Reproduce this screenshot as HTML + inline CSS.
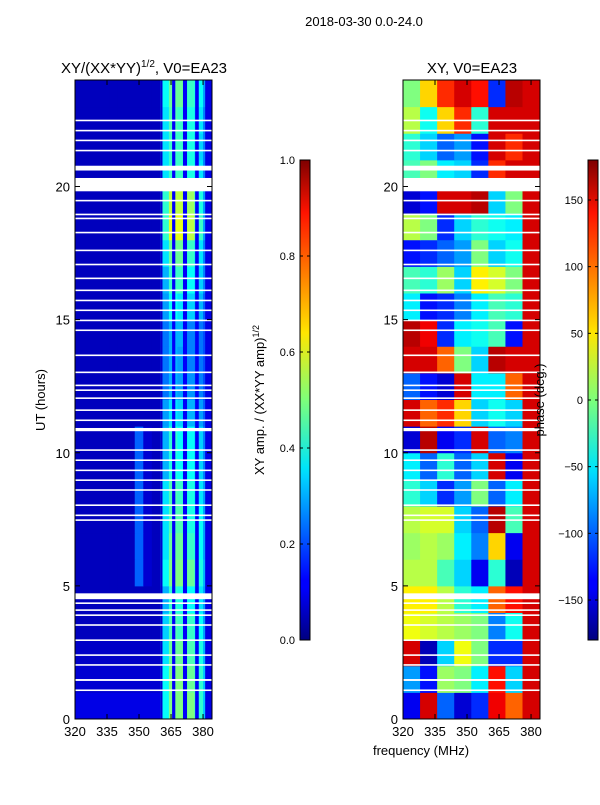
<!DOCTYPE html>
<html><head><meta charset="utf-8">
<style>
body{margin:0;background:#fff;font-family:"Liberation Sans",sans-serif;}
svg text{font-family:"Liberation Sans",sans-serif;fill:#000;}
</style></head>
<body>
<svg id="fig" width="600" height="800" viewBox="0 0 600 800" xmlns="http://www.w3.org/2000/svg">
<defs>
<linearGradient id="jet" x1="0" y1="1" x2="0" y2="0">
<stop offset="0" stop-color="#00007f"/><stop offset="0.11" stop-color="#0000ff"/><stop offset="0.125" stop-color="#0000ff"/>
<stop offset="0.34" stop-color="#00d4ff"/><stop offset="0.36" stop-color="#00e5f7"/><stop offset="0.5" stop-color="#7dff7a"/>
<stop offset="0.64" stop-color="#ffe600"/><stop offset="0.66" stop-color="#ffd400"/><stop offset="0.89" stop-color="#ff1300"/>
<stop offset="1" stop-color="#7f0000"/>
</linearGradient>
</defs>
<text x="364" y="26" font-size="13" text-anchor="middle">2018-03-30 0.0-24.0</text>
<g id="left"></g>
<g id="right"></g>
<text x="144" y="73" font-size="15" text-anchor="middle">XY/(XX*YY)<tspan font-size="10" dy="-6">1/2</tspan><tspan dy="6">, V0=EA23</tspan></text>
<text x="472" y="73" font-size="15" text-anchor="middle">XY, V0=EA23</text>
<text transform="translate(45,400) rotate(-90)" font-size="13" text-anchor="middle">UT (hours)</text>
<text x="421" y="755" font-size="13" text-anchor="middle">frequency (MHz)</text>
<text transform="translate(264,400) rotate(-90)" font-size="13" text-anchor="middle">XY amp. / (XX*YY amp)<tspan font-size="9" dy="-5">1/2</tspan></text>
<text transform="translate(544,400) rotate(-90)" font-size="13" text-anchor="middle">phase (deg.)</text>
</svg>
<script>
// ---- data ----
var ampFreqBins = [320,324,328,332,336,340,344,348,352,356,360,364,368,372,376,380];
var ampRows = [
[0.10,0.10,0.10,0.10,0.10,0.10,0.10,0.10,0.10,0.10,0.38,0.50,0.50,0.50,0.42,0.32],
[0.08,0.08,0.08,0.08,0.08,0.08,0.08,0.08,0.08,0.08,0.38,0.50,0.50,0.48,0.42,0.32],
[0.07,0.07,0.07,0.07,0.07,0.07,0.07,0.07,0.07,0.07,0.35,0.48,0.48,0.45,0.40,0.30],
[0.06,0.06,0.06,0.06,0.06,0.06,0.06,0.06,0.06,0.06,0.33,0.45,0.43,0.43,0.38,0.28],
[0.06,0.06,0.06,0.06,0.06,0.06,0.06,0.06,0.06,0.06,0.30,0.42,0.40,0.38,0.35,0.28],
[0.06,0.06,0.06,0.06,0.06,0.06,0.06,0.22,0.08,0.06,0.38,0.50,0.50,0.48,0.40,0.30],
[0.06,0.06,0.06,0.06,0.06,0.06,0.06,0.22,0.08,0.06,0.35,0.48,0.48,0.43,0.38,0.28],
[0.06,0.06,0.06,0.06,0.06,0.06,0.06,0.22,0.08,0.06,0.35,0.45,0.45,0.40,0.38,0.28],
[0.06,0.06,0.06,0.06,0.06,0.06,0.06,0.22,0.08,0.06,0.35,0.45,0.43,0.40,0.35,0.28],
[0.06,0.06,0.06,0.06,0.06,0.06,0.06,0.22,0.08,0.06,0.30,0.40,0.38,0.38,0.33,0.25],
[0.06,0.06,0.06,0.06,0.06,0.06,0.06,0.22,0.08,0.06,0.30,0.42,0.38,0.38,0.33,0.25],
[0.06,0.06,0.06,0.06,0.06,0.06,0.06,0.06,0.06,0.06,0.28,0.35,0.33,0.30,0.28,0.22],
[0.06,0.06,0.06,0.06,0.06,0.06,0.06,0.06,0.06,0.06,0.24,0.30,0.28,0.27,0.25,0.20],
[0.06,0.06,0.06,0.06,0.06,0.06,0.06,0.06,0.06,0.06,0.24,0.30,0.28,0.25,0.24,0.20],
[0.06,0.06,0.06,0.06,0.06,0.06,0.06,0.06,0.06,0.06,0.24,0.30,0.30,0.25,0.24,0.20],
[0.06,0.06,0.06,0.06,0.06,0.06,0.06,0.06,0.06,0.06,0.28,0.38,0.35,0.33,0.30,0.22],
[0.06,0.06,0.06,0.06,0.06,0.06,0.06,0.06,0.06,0.06,0.30,0.43,0.43,0.38,0.33,0.25],
[0.06,0.06,0.06,0.06,0.06,0.06,0.06,0.06,0.06,0.06,0.35,0.48,0.48,0.43,0.35,0.25],
[0.06,0.06,0.06,0.06,0.06,0.06,0.06,0.06,0.06,0.06,0.42,0.60,0.60,0.56,0.43,0.28],
[0.06,0.06,0.06,0.06,0.06,0.06,0.06,0.06,0.06,0.06,0.42,0.56,0.56,0.53,0.40,0.28],
[0.06,0.06,0.06,0.06,0.06,0.06,0.06,0.06,0.06,0.06,0.35,0.43,0.43,0.40,0.35,0.25],
[0.06,0.06,0.06,0.06,0.06,0.06,0.06,0.06,0.06,0.06,0.35,0.43,0.43,0.40,0.33,0.25],
[0.06,0.06,0.06,0.06,0.06,0.06,0.06,0.06,0.06,0.06,0.35,0.45,0.43,0.40,0.35,0.25],
[0.06,0.06,0.06,0.06,0.06,0.06,0.06,0.06,0.06,0.06,0.38,0.48,0.48,0.43,0.38,0.28]
];
// narrow low-amplitude channel ranges between the bright bands (MHz)
var ampDipStart = [360,365.5,370.6,376.3,381];
var ampDipEnd   = [361,367,372.5,378,384.2];
var ampDipValue = [0.08,0.12,0.12,0.12,0.1];
var phaseFreqBins = [320,328,336,344,352,360,368,376];
var phaseRows = [
[-140,150,-100,-150,-120,140,100,150],
[-80,-130,10,0,-50,130,-60,150],
[150,-160,-60,40,0,-120,-120,150],
[40,30,20,10,0,-90,-40,150],
[50,50,20,-30,-50,100,130,150],
[20,20,-20,-60,-140,-30,-160,150],
[10,20,10,-50,-90,60,-140,150],
[20,30,30,-60,-100,160,-20,150],
[-30,-60,-120,-80,0,-100,-50,150],
[-50,-100,-30,-100,-60,150,-140,150],
[-150,160,-140,-120,150,-100,-90,150],
[150,100,120,60,-60,-40,-60,150],
[-100,-130,-150,150,-50,-50,100,150],
[150,150,100,0,-60,160,150,150],
[160,140,-120,-50,-40,-20,-130,150],
[-50,-130,-120,-90,-50,-20,-30,150],
[-20,-30,10,-60,50,30,0,150],
[-130,-120,-100,-80,0,-60,-40,150],
[20,0,-120,-60,-30,-40,-50,150],
[-150,-130,150,150,160,-60,0,150],
[-20,0,-50,-60,-120,120,150,150],
[-30,-60,-100,-80,-130,150,120,150],
[20,-40,60,120,-30,150,150,150],
[0,60,120,150,130,-120,160,150]
];
var gapStart = [1.05,1.43,2.0,2.37,2.93,3.5,3.87,4.06,4.32,4.5,7.44,7.62,8.0,8.57,8.94,9.31,9.69,10.07,10.81,11.19,11.57,12.02,12.32,12.5,12.99,13.63,14.57,14.94,15.32,15.69,16.07,16.52,17.04,17.57,18.24,18.77,18.92,19.44,19.82,20.6,21.32,21.7,22.07,22.45];
var gapEnd   = [1.11,1.5,2.06,2.43,2.99,3.56,3.93,4.12,4.38,4.72,7.5,7.68,8.06,8.63,9.0,9.37,9.75,10.13,10.93,11.25,11.63,12.08,12.38,12.56,13.05,13.69,14.63,15.0,15.38,15.75,16.13,16.58,17.1,17.63,18.3,18.83,18.98,19.5,20.32,20.78,21.38,21.76,22.13,22.51];
var yTicks = [0,5,10,15,20];
var xTicks = [320,335,350,365,380];
var ampCbTicks = [0.0,0.2,0.4,0.6,0.8,1.0];
var phaseCbTicks = [-150,-100,-50,0,50,100,150];

// ---- helpers ----
var NS="http://www.w3.org/2000/svg";
function jet(v){v=Math.max(0,Math.min(1,v));
 function c(x){return Math.max(0,Math.min(1,x));}
 var r=c(Math.min(4*v-1.5,-4*v+4.5)),g=c(Math.min(4*v-0.5,-4*v+3.5)),b=c(Math.min(4*v+0.5,-4*v+2.5));
 return "rgb("+Math.round(r*255)+","+Math.round(g*255)+","+Math.round(b*255)+")";}
function mk(tag,attrs,parent){var e=document.createElementNS(NS,tag);for(var k in attrs)e.setAttribute(k,attrs[k]);parent.appendChild(e);return e;}
var Y0=719,Y1=80,FMIN=320,FMAX=384.2;
function yScale(h){return Y0-(h/24)*(Y0-Y1);}
function panel(gid,x0,x1,freqs,rows,vmap,fstep,dips){
 var g=document.getElementById(gid);
 function xs(f){return x0+(f-FMIN)/(FMAX-FMIN)*(x1-x0);}
 for(var r=0;r<rows.length;r++){for(var c=0;c<freqs.length;c++){
  var fa=freqs[c],fb=Math.min(FMAX,freqs[c]+fstep);
  var rc=mk('rect',{x:xs(fa),y:yScale(r+1),width:xs(fb)-xs(fa)+0.5,height:yScale(r)-yScale(r+1)+0.5,fill:jet(vmap(rows[r][c]))},g);
  
  
 }}
 if(dips){for(var d=0;d<dips.s.length;d++){
  var dr=mk('rect',{x:xs(dips.s[d]),y:Y1,width:xs(dips.e[d])-xs(dips.s[d]),height:Y0-Y1,fill:jet(dips.v[d])},g);
  
  
 }}
 for(var i=0;i<gapStart.length;i++){
  var gr=mk('rect',{x:x0,y:yScale(gapEnd[i]),width:x1-x0,height:yScale(gapStart[i])-yScale(gapEnd[i]),fill:'#fff'},g);
  
  
 }
 var fr=mk('rect',{x:x0,y:Y1,width:x1-x0,height:Y0-Y1,fill:'none',stroke:'#000','stroke-width':1},g);
 
 
 yTicks.forEach(function(t){var y=yScale(t);
  mk('line',{x1:x0,x2:x0+5,y1:y,y2:y,stroke:'#000'},g);mk('line',{x1:x1,x2:x1-5,y1:y,y2:y,stroke:'#000'},g);
  var tx=mk('text',{x:x0-5,y:y+5,'font-size':13,'text-anchor':'end'},g);tx.textContent=t;
  
  });
 xTicks.forEach(function(t){var x=xs(t);
  mk('line',{x1:x,x2:x,y1:Y0,y2:Y0-5,stroke:'#000'},g);mk('line',{x1:x,x2:x,y1:Y1,y2:Y1+5,stroke:'#000'},g);
  var tx=mk('text',{x:x,y:Y0+17,'font-size':13,'text-anchor':'middle'},g);tx.textContent=t;
  
  });
}
panel('left',75,212,ampFreqBins,ampRows,function(v){return v;},4,{s:ampDipStart,e:ampDipEnd,v:ampDipValue});
panel('right',403,540,phaseFreqBins,phaseRows,function(v){return (v+180)/360;},8,null);

function colorbar(x,ticks,vmin,vmax,fmt,name){
 var svg=document.getElementById('fig');
 var top=160,bot=640;
 var b=mk('rect',{x:x,y:top,width:10,height:bot-top,fill:'url(#jet)',stroke:'#000','stroke-width':1},svg);
 
 
 ticks.forEach(function(t){var y=bot-(t-vmin)/(vmax-vmin)*(bot-top);
  mk('line',{x1:x,x2:x+3,y1:y,y2:y,stroke:'#000'},svg);mk('line',{x1:x+10,x2:x+7,y1:y,y2:y,stroke:'#000'},svg);
  var tx=mk('text',{x:x-5,y:y+4,'font-size':11,'text-anchor':'end'},svg);tx.textContent=fmt(t);
  
  });
}
colorbar(300,ampCbTicks,0,1,function(t){return t.toFixed(1);},'amplitude-colorbar');
colorbar(588,phaseCbTicks,-180,180,function(t){return t<0?'\u2212'+(-t):''+t;},'phase-colorbar');
</script>
</body></html>
